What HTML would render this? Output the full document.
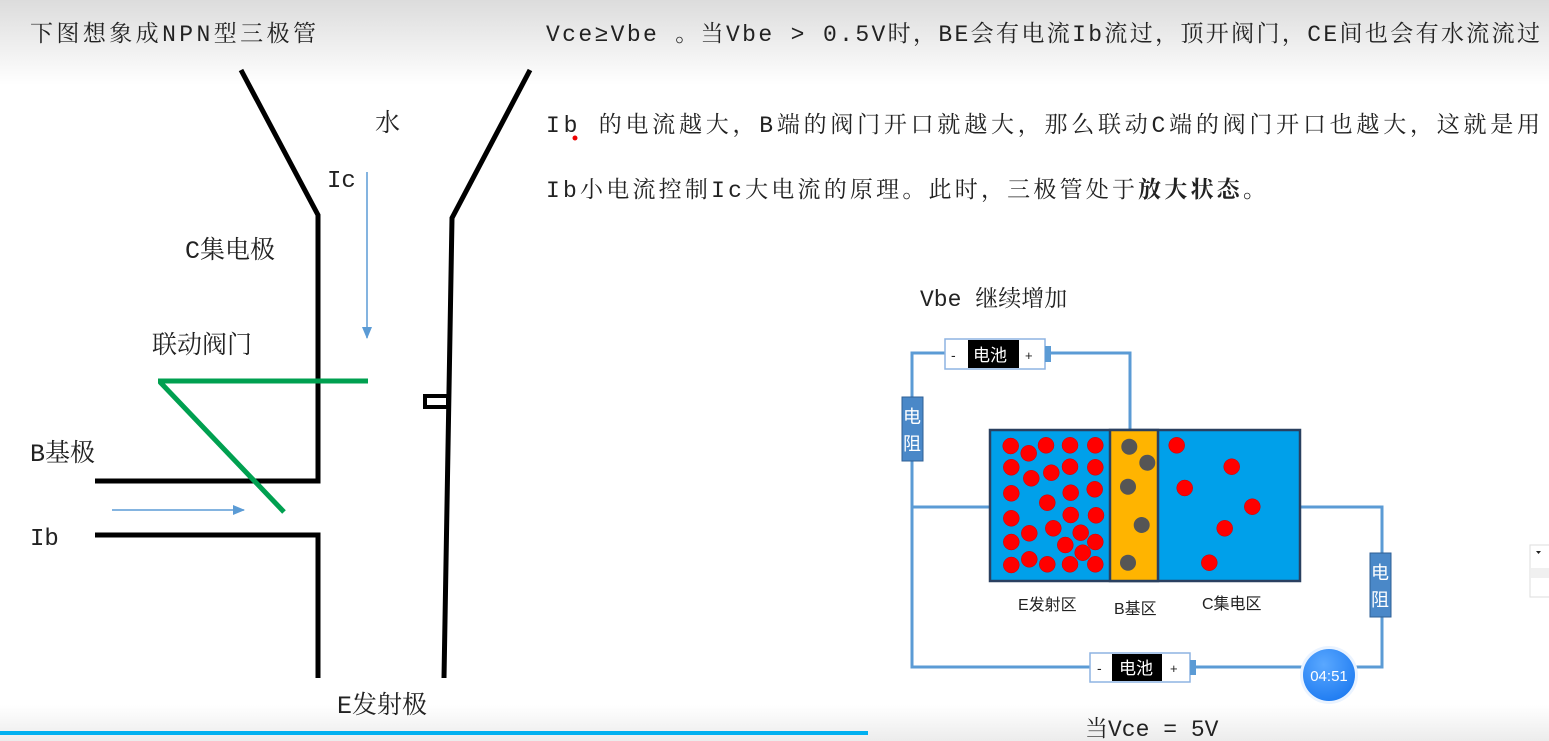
<!DOCTYPE html>
<html><head><meta charset="utf-8"><style>
html,body{margin:0;padding:0;background:#fff}
svg{display:block}
text{font-family:"Liberation Mono","Noto Serif CJK SC",serif;fill:#222}
.s{font-family:"Liberation Sans","Noto Sans CJK SC",sans-serif}
</style></head><body>
<svg width="1549" height="741" xmlns="http://www.w3.org/2000/svg">
<defs>
<linearGradient id="tg" x1="0" y1="0" x2="0" y2="1"><stop offset="0" stop-color="#dcdcdc"/><stop offset="1" stop-color="#fff"/></linearGradient>
<linearGradient id="bg" x1="0" y1="0" x2="0" y2="1"><stop offset="0" stop-color="#fff"/><stop offset="1" stop-color="#ececec"/></linearGradient>
<radialGradient id="cg" cx="0.4" cy="0.3" r="0.8"><stop offset="0" stop-color="#5aa8ff"/><stop offset="1" stop-color="#1a78f0"/></radialGradient>
<marker id="ah" markerWidth="12" markerHeight="10" refX="11" refY="5" orient="auto" markerUnits="userSpaceOnUse"><path d="M0,0 L12,5 L0,10 z" fill="#5b9bd5"/></marker>
</defs>
<rect x="0" y="0" width="1549" height="85" fill="url(#tg)"/>
<rect x="0" y="705" width="1549" height="36" fill="url(#bg)"/>
<rect x="0" y="731" width="868" height="4" fill="#00b0f0"/>

<text x="30" y="41" font-size="23" textLength="286">下图想象成NPN型三极管</text>
<text x="546" y="41" font-size="23" textLength="994">Vce≥Vbe 。当Vbe &gt; 0.5V时，BE会有电流Ib流过，顶开阀门，CE间也会有水流流过</text>
<text x="546" y="132" font-size="23" textLength="994">Ib 的电流越大，B端的阀门开口就越大，那么联动C端的阀门开口也越大，这就是用</text>
<circle cx="575" cy="138" r="2.5" fill="#e00"/>
<text x="546" y="197" font-size="23" textLength="720">Ib小电流控制Ic大电流的原理。此时，三极管处于<tspan font-weight="bold">放大状态</tspan>。</text>

<g stroke="#000" stroke-width="5" fill="none" stroke-linejoin="miter">
<polyline points="241,70 318,215 318,481 95,481"/>
<polyline points="95,535 318,535 318,678"/>
<polyline points="530,70 452,218 444,678"/>
<rect x="425" y="396" width="23" height="11" stroke-width="4"/>
</g>
<g stroke="#00a050" stroke-width="5" fill="none">
<line x1="158" y1="381" x2="368" y2="381"/>
<line x1="160" y1="382" x2="284" y2="512"/>
</g>
<line x1="367" y1="172" x2="367" y2="338" stroke="#5b9bd5" stroke-width="1.5" marker-end="url(#ah)"/>
<line x1="112" y1="510" x2="244" y2="510" stroke="#5b9bd5" stroke-width="1.5" marker-end="url(#ah)"/>
<text x="375" y="131" font-size="25">水</text>
<text x="327" y="187" font-size="24">Ic</text>
<text x="185" y="258" font-size="25">C集电极</text>
<text x="152" y="353" font-size="25">联动阀门</text>
<text x="30" y="461" font-size="25">B基极</text>
<text x="30" y="545" font-size="24">Ib</text>
<text x="337" y="713" font-size="25">E发射极</text>

<text x="920" y="306" font-size="23">Vbe 继续增加</text>
<g stroke="#5b9bd5" stroke-width="3" fill="none">
<polyline points="945,353 912,353 912,667 1090,667"/>
<polyline points="1050,353 1130,353 1130,430"/>
<line x1="912" y1="507" x2="990" y2="507"/>
<polyline points="1300,507 1382,507 1382,667 1195,667"/>
</g>
<g class="s">
<rect x="945" y="339" width="100" height="30" fill="#fff" stroke="#8db4e2" stroke-width="1.5"/>
<rect x="968" y="340" width="51" height="28" fill="#000"/>
<rect x="1045" y="346" width="6" height="16" fill="#5b9bd5"/>
<text class="s" x="951" y="360" font-size="14">-</text>
<text class="s" x="973" y="361" font-size="17" style="fill:#fff">电池</text>
<text class="s" x="1025" y="360" font-size="13">+</text>
<rect x="1090" y="653" width="100" height="29" fill="#fff" stroke="#8db4e2" stroke-width="1.5"/>
<rect x="1112" y="654" width="50" height="27" fill="#000"/>
<rect x="1190" y="660" width="6" height="15" fill="#5b9bd5"/>
<text class="s" x="1097" y="673" font-size="14">-</text>
<text class="s" x="1119" y="674" font-size="17" style="fill:#fff">电池</text>
<text class="s" x="1170" y="673" font-size="13">+</text>
</g>
<rect x="902" y="397" width="21" height="64" fill="#4a88c8" stroke="#2f5f95"/>
<text class="s" x="903" y="423" font-size="18" style="fill:#fff">电</text>
<text class="s" x="903" y="450" font-size="18" style="fill:#fff">阻</text>
<rect x="1370" y="553" width="21" height="64" fill="#4a88c8" stroke="#2f5f95"/>
<text class="s" x="1371" y="579" font-size="18" style="fill:#fff">电</text>
<text class="s" x="1371" y="606" font-size="18" style="fill:#fff">阻</text>

<rect x="990" y="430" width="310" height="151" fill="#00a0ea" stroke="#2a4060" stroke-width="2.5"/>
<rect x="1110" y="430" width="48" height="151" fill="#ffb400" stroke="#2a4060" stroke-width="2.5"/>
<g fill="#f00" stroke="#c00" stroke-width="0.5">
<circle cx="1010.7" cy="446" r="8"/><circle cx="1028.7" cy="453.3" r="8"/><circle cx="1046" cy="445.3" r="8"/><circle cx="1070" cy="445.3" r="8"/><circle cx="1095.3" cy="445.3" r="8"/>
<circle cx="1011.3" cy="467.3" r="8"/><circle cx="1031.3" cy="478.3" r="8"/><circle cx="1051.3" cy="472.7" r="8"/><circle cx="1070" cy="466.7" r="8"/><circle cx="1095.3" cy="467.3" r="8"/>
<circle cx="1011.3" cy="493.3" r="8"/><circle cx="1047.3" cy="502.7" r="8"/><circle cx="1070.7" cy="492.7" r="8"/><circle cx="1094.7" cy="489.3" r="8"/>
<circle cx="1011.3" cy="518.3" r="8"/><circle cx="1070.7" cy="515" r="8"/><circle cx="1096" cy="515.3" r="8"/>
<circle cx="1011.3" cy="542" r="8"/><circle cx="1029.3" cy="533.3" r="8"/><circle cx="1053.3" cy="528.3" r="8"/><circle cx="1080.7" cy="532.7" r="8"/><circle cx="1065.3" cy="545" r="8"/><circle cx="1095.3" cy="542" r="8"/><circle cx="1082.7" cy="552.7" r="8"/>
<circle cx="1011.3" cy="565" r="8"/><circle cx="1029.3" cy="559.3" r="8"/><circle cx="1047.3" cy="564.3" r="8"/><circle cx="1070" cy="564.3" r="8"/><circle cx="1095.3" cy="564.3" r="8"/>
<circle cx="1176.7" cy="445.3" r="8"/><circle cx="1231.7" cy="466.7" r="8"/><circle cx="1184.7" cy="488" r="8"/><circle cx="1252.3" cy="506.7" r="8"/><circle cx="1224.7" cy="528.3" r="8"/><circle cx="1209.3" cy="562.7" r="8"/>
</g>
<g fill="#555">
<circle cx="1129.3" cy="446.7" r="8"/><circle cx="1147.3" cy="462.7" r="8"/><circle cx="1128" cy="486.7" r="8"/><circle cx="1141.7" cy="525" r="8"/><circle cx="1128" cy="562.7" r="8"/>
</g>
<text class="s" x="1018" y="610" font-size="16">E发射区</text>
<text class="s" x="1114" y="614" font-size="16">B基区</text>
<text class="s" x="1202" y="609" font-size="16">C集电区</text>

<circle cx="1329" cy="675" r="29" fill="#eaf3ff"/>
<circle cx="1329" cy="675" r="26" fill="url(#cg)"/>
<text class="s" x="1329" y="681" font-size="15" text-anchor="middle" style="fill:#fff">04:51</text>
<text x="1085" y="736" font-size="23">当Vce = 5V</text>

<rect x="1530" y="545" width="25" height="52" fill="#fff" stroke="#ddd"/>
<rect x="1531" y="568" width="20" height="10" fill="#f0f0f0"/>
<path d="M1536,551 l5,0 l-2.5,3 z" fill="#222"/>
</svg>
</body></html>
